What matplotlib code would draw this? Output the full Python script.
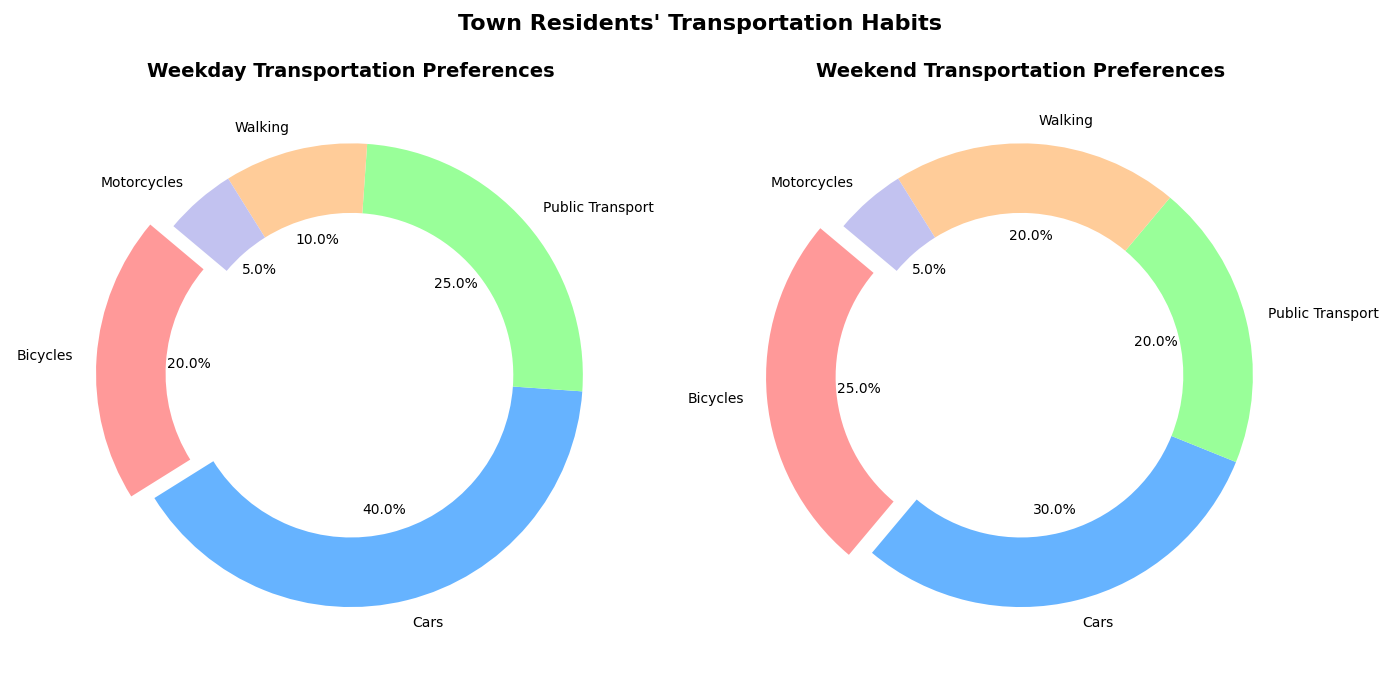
import matplotlib
matplotlib.use("Agg")
import matplotlib.pyplot as plt

categories = ["Bicycles", "Cars", "Public Transport", "Walking", "Motorcycles"]
weekday = [20, 40, 25, 10, 5]
weekend = [25, 30, 20, 20, 5]
colors = ["#ff9999", "#66b3ff", "#99ff99", "#ffcc99", "#c2c2f0"]
explode = [0.1, 0, 0, 0, 0]

fig, axes = plt.subplots(1, 2, figsize=(14, 7))
for ax, vals, title in zip(axes, [weekday, weekend],
                           ["Weekday Transportation Preferences",
                            "Weekend Transportation Preferences"]):
    ax.pie(vals, labels=categories, colors=colors, explode=explode,
           autopct="%1.1f%%", startangle=140,
           wedgeprops=dict(width=0.3))
    ax.set_title(title, fontsize=14, fontweight="bold")

fig.suptitle("Town Residents' Transportation Habits", fontsize=16, fontweight="bold")
plt.subplots_adjust(left=51/1400, right=1321/1400, wspace=70/600,
                    top=0.878, bottom=0.05)
fig.savefig("out.png", dpi=100)
